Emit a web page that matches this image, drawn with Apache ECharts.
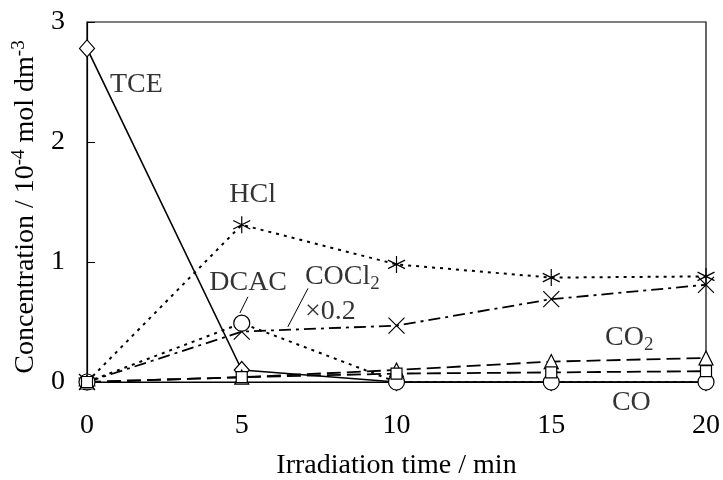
<!DOCTYPE html>
<html>
<head>
<meta charset="utf-8">
<script src="https://cdn.jsdelivr.net/npm/echarts@6/dist/echarts.min.js"></script>
<style>html,body{margin:0;padding:0;background:#fff;}#c{width:723px;height:480px;}</style>
</head>
<body>
<div id="c"></div>
<script>
var times = [0, 5, 10, 15, 20];
var tce = [2.78, 0.10, 0.00, 0.00, 0.00];
var hcl = [0.00, 1.31, 0.98, 0.87, 0.88];
var cocl2 = [0.00, 0.42, 0.47, 0.69, 0.81];
var dcac = [0.00, 0.49, 0.00, 0.00, 0.00];
var co2 = [0.00, 0.04, 0.10, 0.17, 0.20];
var co = [0.00, 0.04, 0.07, 0.08, 0.09];
var xTicks = [0, 5, 10, 15, 20];
var yTicks = [0, 1, 2, 3];

var FONT = 'Liberation Serif';
function pairs(ys){ return times.map(function(t,i){ return [t, ys[i]]; }); }

var ASTER = 'path://M10,0L10,20M1.34,5L18.66,15M1.34,15L18.66,5';
var CROSS = 'path://M0,0L20,20M0,20L20,0';

function mk(name, ys, symbol, size, lineType, width){
  return {
    name: name, type: 'line', data: pairs(ys),
    symbol: symbol, symbolSize: size, showSymbol: true,
    lineStyle: {color: '#000', width: width, type: lineType},
    itemStyle: {color: '#fff', borderColor: '#000', borderWidth: 1.2},
    emphasis: {disabled: true}, silent: true, clip: false, z: 3
  };
}

var rich = {
  sub: {fontFamily: FONT, fontSize: 19, color: '#000', verticalAlign: 'bottom', padding: [14, 0, 0, 0]},
  sup: {fontFamily: FONT, fontSize: 19, color: '#000', verticalAlign: 'top', padding: [0, 0, 14, 0]}
};

function ann(x, y, text){
  return {value: [x, y], label: {formatter: text}};
}

var chart = echarts.init(document.getElementById('c'), null, {renderer: 'canvas'});
chart.setOption({
  animation: false,
  backgroundColor: '#fff',
  grid: {left: 87, right: 17, top: 22, bottom: 98, containLabel: false, outerBoundsMode: 'none',
         show: true, borderColor: '#000', borderWidth: 1.2, backgroundColor: 'transparent'},
  xAxis: {
    type: 'value', min: xTicks[0], max: xTicks[xTicks.length-1], interval: 5,
    axisLine: {show: true, lineStyle: {color: '#000', width: 1.2}},
    axisTick: {show: true, inside: true, length: 8, lineStyle: {color: '#000'}},
    splitLine: {show: false},
    axisLabel: {fontFamily: FONT, fontSize: 28, color: '#000', margin: 30},
    name: 'Irradiation time / min', nameLocation: 'middle', nameGap: 70,
    nameTextStyle: {fontFamily: FONT, fontSize: 28, color: '#000'}
  },
  yAxis: {
    type: 'value', min: yTicks[0], max: yTicks[yTicks.length-1], interval: 1,
    axisLine: {show: true, lineStyle: {color: '#000', width: 1.2}},
    axisTick: {show: true, inside: true, length: 8, lineStyle: {color: '#000'}},
    splitLine: {show: false},
    axisLabel: {fontFamily: FONT, fontSize: 28, color: '#000', margin: 22},
    name: 'Concentration / 10{sup|-4} mol dm{sup|-3}', nameLocation: 'middle', nameGap: 44, nameRotate: 90,
    nameTextStyle: {fontFamily: FONT, fontSize: 28, color: '#000', rich: rich, padding: [0, 10, 0, 0]}
  },
  series: [
    mk('TCE', tce, 'diamond', [15, 17], 'solid', 1.6),
    mk('HCl', hcl, ASTER, 17, [3, 5], 2),
    mk('COCl2', cocl2, CROSS, 16, [12, 5, 3, 5], 1.8),
    mk('DCAC', dcac, 'circle', 16, [3, 5], 2),
    mk('CO2', co2, 'triangle', 14, [14, 6], 1.8),
    mk('CO', co, 'rect', 11, [14, 6], 1.8),
    {
      name: 'labels', type: 'scatter', symbolSize: 0, silent: true, clip: false, z: 5,
      label: {show: true, position: 'right', distance: 0, fontFamily: FONT, fontSize: 28, color: '#000', rich: rich},
      data: [
        ann(0.74, 2.475, 'TCE'),
        ann(4.6, 1.56, 'HCl'),
        ann(3.95, 0.83, 'DCAC'),
        ann(7.04, 0.875, 'COCl{sub|2}'),
        ann(7.04, 0.59, '×0.2'),
        ann(16.74, 0.37, 'CO{sub|2}'),
        ann(16.96, -0.175, 'CO')
      ],
      markLine: {
        silent: true, symbol: 'none', animation: false,
        label: {show: false},
        lineStyle: {color: '#000', width: 1, type: 'solid'},
        data: [
          [{coord: [5.2, 0.71]}, {coord: [4.94, 0.575]}],
          [{coord: [7.14, 0.78]}, {coord: [6.49, 0.46]}],
          [{coord: [16.51, 0.10]}, {coord: [16.96, -0.167]}]
        ]
      }
    }
  ]
});
</script>
</body>
</html>
